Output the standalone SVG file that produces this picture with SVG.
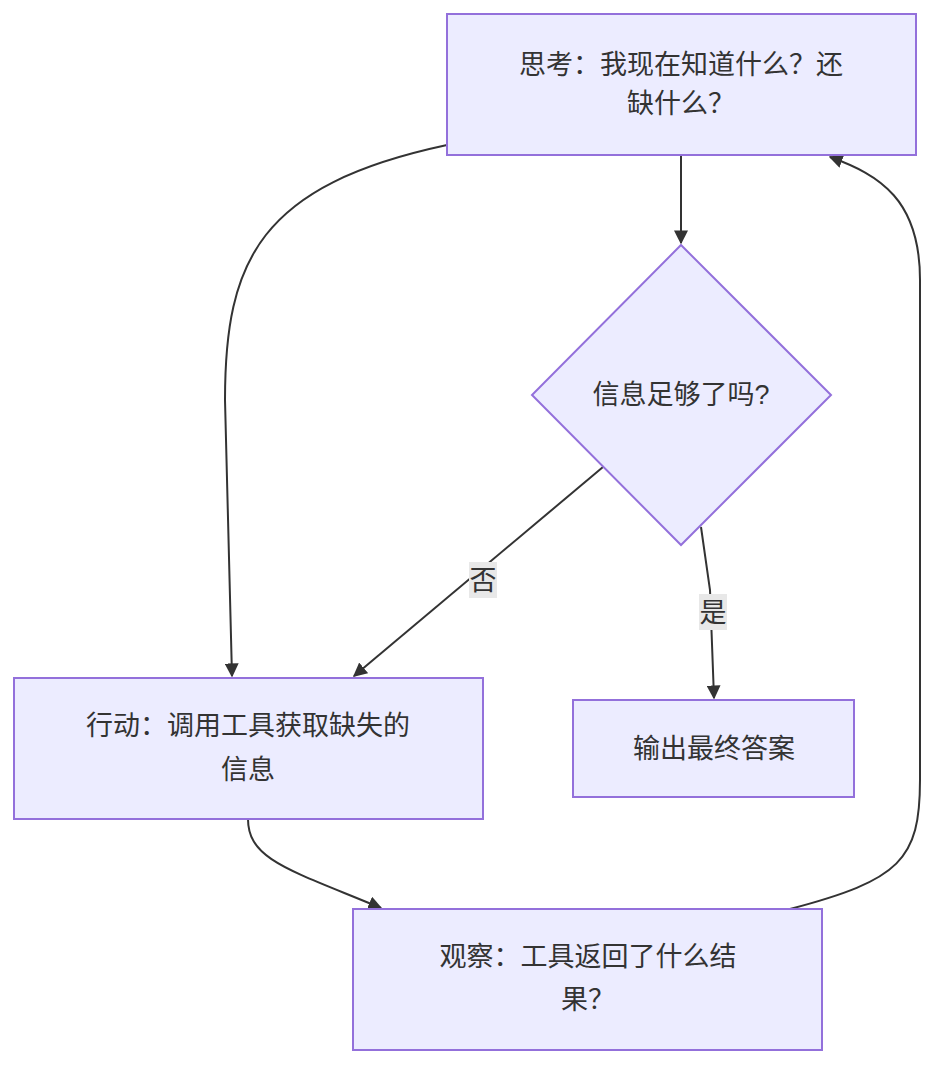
<svg xmlns="http://www.w3.org/2000/svg" width="951" height="1080" viewBox="0 0 951 1080">
<style>
.n{fill:#ECECFF;stroke:#9370DB;stroke-width:2}
.t{font-family:"Liberation Sans","Noto Sans CJK SC",sans-serif;font-size:27px;fill:#333;text-anchor:middle}
.e{fill:none;stroke:#333;stroke-width:2}
.lb{fill:#e8e8e8}
</style>
<defs><marker id="a" viewBox="0 0 10 10" refX="9" refY="5" markerWidth="7" markerHeight="7" orient="auto"><path d="M0,0L10,5L0,10z" fill="#333"/></marker></defs>
<rect width="951" height="1080" fill="#fff"/>
<g id="edges">
<path class="e" d="M681,155 L681,243" marker-end="url(#a)"/>
<path class="e" d="M447,145 C260,185 225,260 225,400 L232,676" marker-end="url(#a)"/>
<path class="e" d="M603,467 L354,676" marker-end="url(#a)"/>
<path class="e" d="M701,527 L710,590 L714,698" marker-end="url(#a)"/>
<path class="e" d="M248,819 C248,860 290,870 381,908" marker-end="url(#a)"/>
<path class="e" d="M790,909 C900,880 920,860 920,780 L920,280 C920,200 880,175 830,157" marker-end="url(#a)"/>
<rect class="lb" x="469" y="562" width="28" height="36"/>
<text class="t" x="483" y="590">否</text>
<rect class="lb" x="699" y="594" width="28" height="36"/>
<text class="t" x="713" y="622">是</text>
</g>
<g id="think"><rect class="n" x="447" y="14" width="469" height="141"/>
<text class="t" x="681" y="74">思考：我现在知道什么？还</text><text class="t" x="681" y="113">缺什么？</text></g>
<g id="decide"><path class="n" d="M681,245 L831,395 L681,545 L532,395z"/>
<text class="t" x="681" y="404">信息足够了吗?</text></g>
<g id="action"><rect class="n" x="14" y="678" width="469" height="141"/>
<text class="t" x="248" y="735">行动：调用工具获取缺失的</text><text class="t" x="248" y="779">信息</text></g>
<g id="output"><rect class="n" x="573" y="700" width="281" height="97"/>
<text class="t" x="714" y="758">输出最终答案</text></g>
<g id="observe"><rect class="n" x="353" y="909" width="469" height="141"/>
<text class="t" x="588" y="966">观察：工具返回了什么结</text><text class="t" x="588" y="1009">果？</text></g>
</svg>
